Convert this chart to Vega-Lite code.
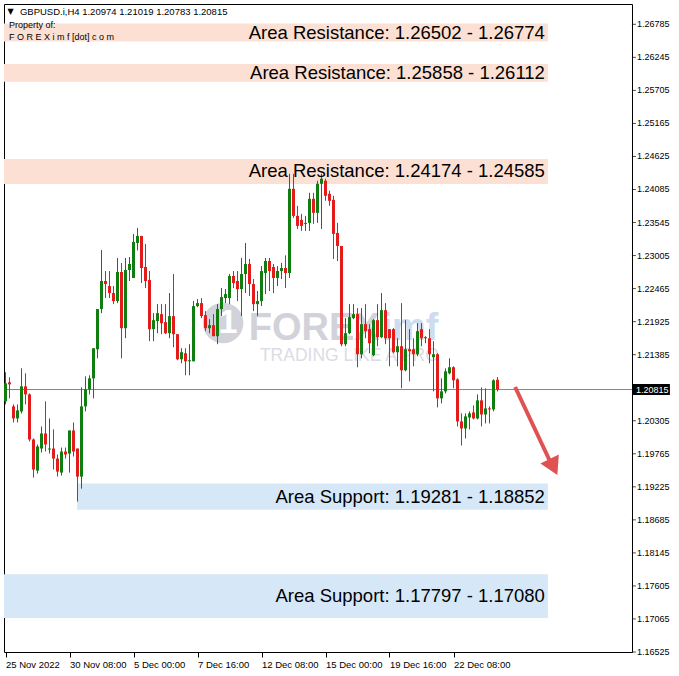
{
  "$schema": "https://vega.github.io/schema/vega-lite/v6.json",
  "width": 628,
  "height": 648,
  "autosize": {"type": "none"},
  "padding": {"left": 4, "top": 4, "right": 47, "bottom": 24},
  "background": "white",
  "view": {"stroke": "#000000", "strokeWidth": 1},
  "config": {"font": "Liberation Sans", "axis": {"labelOverlap": false, "labelFlush": false, "labelBound": false}, "axisQuantitative": {"labelOverlap": false}},
  "datasets": {
    "candles": [
      {"t":0,"o":1.20622,"h":1.21097,"l":1.20572,"c":1.20916},
      {"t":1,"o":1.20933,"h":1.21015,"l":1.20671,"c":1.20900},
      {"t":2,"o":1.20540,"h":1.20572,"l":1.20277,"c":1.20343},
      {"t":3,"o":1.20343,"h":1.20572,"l":1.20277,"c":1.20474},
      {"t":4,"o":1.20458,"h":1.21162,"l":1.20425,"c":1.20867},
      {"t":5,"o":1.20867,"h":1.21080,"l":1.20572,"c":1.20736},
      {"t":6,"o":1.20736,"h":1.20752,"l":1.19966,"c":1.19999},
      {"t":7,"o":1.19999,"h":1.20015,"l":1.19376,"c":1.19507},
      {"t":8,"o":1.19490,"h":1.19917,"l":1.19441,"c":1.19884},
      {"t":9,"o":1.19851,"h":1.20212,"l":1.19785,"c":1.20097},
      {"t":10,"o":1.20097,"h":1.20622,"l":1.19802,"c":1.19917},
      {"t":11,"o":1.19835,"h":1.20343,"l":1.19769,"c":1.19851},
      {"t":12,"o":1.19851,"h":1.20163,"l":1.19507,"c":1.19687},
      {"t":13,"o":1.19687,"h":1.19753,"l":1.19392,"c":1.19474},
      {"t":14,"o":1.19458,"h":1.19867,"l":1.19408,"c":1.19802},
      {"t":15,"o":1.19802,"h":1.19867,"l":1.19687,"c":1.19753},
      {"t":16,"o":1.19769,"h":1.20146,"l":1.19458,"c":1.20146},
      {"t":17,"o":1.20146,"h":1.20277,"l":1.19720,"c":1.19802},
      {"t":18,"o":1.19851,"h":1.19851,"l":1.18983,"c":1.19392},
      {"t":19,"o":1.19392,"h":1.20851,"l":1.19195,"c":1.20540},
      {"t":20,"o":1.20540,"h":1.21031,"l":1.20458,"c":1.20818},
      {"t":21,"o":1.20818,"h":1.21048,"l":1.20736,"c":1.20998},
      {"t":22,"o":1.20998,"h":1.21490,"l":1.20671,"c":1.21490},
      {"t":23,"o":1.21474,"h":1.22130,"l":1.21326,"c":1.22130},
      {"t":24,"o":1.22130,"h":1.23097,"l":1.22064,"c":1.22589},
      {"t":25,"o":1.22589,"h":1.22752,"l":1.22310,"c":1.22539},
      {"t":26,"o":1.22507,"h":1.22752,"l":1.22310,"c":1.22392},
      {"t":27,"o":1.22392,"h":1.22507,"l":1.22211,"c":1.22261},
      {"t":28,"o":1.22261,"h":1.22966,"l":1.22228,"c":1.22736},
      {"t":29,"o":1.22736,"h":1.22884,"l":1.21326,"c":1.21818},
      {"t":30,"o":1.21818,"h":1.22966,"l":1.21654,"c":1.22769},
      {"t":31,"o":1.22769,"h":1.22982,"l":1.22589,"c":1.22867},
      {"t":32,"o":1.22638,"h":1.23359,"l":1.22638,"c":1.23228},
      {"t":33,"o":1.23211,"h":1.23457,"l":1.23090,"c":1.23326},
      {"t":34,"o":1.23326,"h":1.23326,"l":1.22556,"c":1.22802},
      {"t":35,"o":1.22818,"h":1.23195,"l":1.22474,"c":1.22589},
      {"t":36,"o":1.22605,"h":1.22752,"l":1.21605,"c":1.21802},
      {"t":37,"o":1.21802,"h":1.22064,"l":1.21605,"c":1.21949},
      {"t":38,"o":1.21933,"h":1.22211,"l":1.21736,"c":1.22064},
      {"t":39,"o":1.22048,"h":1.22211,"l":1.21720,"c":1.21900},
      {"t":40,"o":1.21916,"h":1.22211,"l":1.21720,"c":1.21736},
      {"t":41,"o":1.21736,"h":1.22392,"l":1.21654,"c":1.22015},
      {"t":42,"o":1.22015,"h":1.22703,"l":1.21507,"c":1.21720},
      {"t":43,"o":1.21720,"h":1.21720,"l":1.21294,"c":1.21310},
      {"t":44,"o":1.21310,"h":1.21490,"l":1.21244,"c":1.21425},
      {"t":45,"o":1.21408,"h":1.21490,"l":1.21048,"c":1.21277},
      {"t":46,"o":1.21277,"h":1.21556,"l":1.21048,"c":1.21294},
      {"t":47,"o":1.21277,"h":1.22261,"l":1.21277,"c":1.22179},
      {"t":48,"o":1.22179,"h":1.22293,"l":1.22162,"c":1.22228},
      {"t":49,"o":1.22228,"h":1.22310,"l":1.21982,"c":1.22015},
      {"t":50,"o":1.22031,"h":1.22097,"l":1.21769,"c":1.21818},
      {"t":51,"o":1.21818,"h":1.21966,"l":1.21736,"c":1.21867},
      {"t":52,"o":1.21867,"h":1.22048,"l":1.21687,"c":1.21687},
      {"t":53,"o":1.21687,"h":1.22211,"l":1.21556,"c":1.22130},
      {"t":54,"o":1.22130,"h":1.22474,"l":1.22015,"c":1.22326},
      {"t":55,"o":1.22310,"h":1.22457,"l":1.22228,"c":1.22375},
      {"t":56,"o":1.22310,"h":1.22703,"l":1.22211,"c":1.22671},
      {"t":57,"o":1.22671,"h":1.22752,"l":1.22474,"c":1.22556},
      {"t":58,"o":1.22589,"h":1.22752,"l":1.22261,"c":1.22457},
      {"t":59,"o":1.22457,"h":1.22966,"l":1.22015,"c":1.22703},
      {"t":60,"o":1.22703,"h":1.23211,"l":1.22392,"c":1.22867},
      {"t":61,"o":1.22867,"h":1.22949,"l":1.22343,"c":1.22539},
      {"t":62,"o":1.22539,"h":1.22621,"l":1.22097,"c":1.22211},
      {"t":63,"o":1.22211,"h":1.22425,"l":1.22015,"c":1.22261},
      {"t":64,"o":1.22261,"h":1.22834,"l":1.22179,"c":1.22752},
      {"t":65,"o":1.22720,"h":1.22966,"l":1.22375,"c":1.22916},
      {"t":66,"o":1.22916,"h":1.22966,"l":1.22425,"c":1.22752},
      {"t":67,"o":1.22818,"h":1.22867,"l":1.22392,"c":1.22638},
      {"t":68,"o":1.22638,"h":1.22834,"l":1.22507,"c":1.22752},
      {"t":69,"o":1.22752,"h":1.22884,"l":1.22621,"c":1.22802},
      {"t":70,"o":1.22802,"h":1.23008,"l":1.22474,"c":1.22720},
      {"t":71,"o":1.22720,"h":1.24342,"l":1.22638,"c":1.24096},
      {"t":72,"o":1.24096,"h":1.24342,"l":1.23621,"c":1.23654},
      {"t":73,"o":1.23654,"h":1.23818,"l":1.23441,"c":1.23490},
      {"t":74,"o":1.23588,"h":1.23687,"l":1.23408,"c":1.23490},
      {"t":75,"o":1.23523,"h":1.23654,"l":1.23408,"c":1.23539},
      {"t":76,"o":1.23539,"h":1.24031,"l":1.23408,"c":1.23933},
      {"t":77,"o":1.23933,"h":1.24031,"l":1.23523,"c":1.23703},
      {"t":78,"o":1.23703,"h":1.24228,"l":1.23539,"c":1.24178},
      {"t":79,"o":1.24178,"h":1.24342,"l":1.23441,"c":1.24260},
      {"t":80,"o":1.24228,"h":1.24260,"l":1.23900,"c":1.23982},
      {"t":81,"o":1.24015,"h":1.24064,"l":1.23818,"c":1.23900},
      {"t":82,"o":1.23916,"h":1.23982,"l":1.22949,"c":1.23359},
      {"t":83,"o":1.23375,"h":1.23539,"l":1.22916,"c":1.23162},
      {"t":84,"o":1.23162,"h":1.23162,"l":1.21523,"c":1.21556},
      {"t":85,"o":1.21556,"h":1.21982,"l":1.21523,"c":1.21736},
      {"t":86,"o":1.21736,"h":1.22211,"l":1.21720,"c":1.21998},
      {"t":87,"o":1.21982,"h":1.22211,"l":1.21966,"c":1.22048},
      {"t":88,"o":1.22048,"h":1.22146,"l":1.21179,"c":1.21392},
      {"t":89,"o":1.21392,"h":1.22146,"l":1.21326,"c":1.21884},
      {"t":90,"o":1.21884,"h":1.22211,"l":1.21654,"c":1.21769},
      {"t":91,"o":1.21802,"h":1.21884,"l":1.21408,"c":1.21572},
      {"t":92,"o":1.21376,"h":1.21966,"l":1.21359,"c":1.21949},
      {"t":93,"o":1.21949,"h":1.22211,"l":1.21523,"c":1.21671},
      {"t":94,"o":1.21671,"h":1.22392,"l":1.21654,"c":1.22113},
      {"t":95,"o":1.22113,"h":1.22228,"l":1.21556,"c":1.21654},
      {"t":96,"o":1.21802,"h":1.21802,"l":1.21195,"c":1.21654},
      {"t":97,"o":1.21802,"h":1.21818,"l":1.21408,"c":1.21425},
      {"t":98,"o":1.21425,"h":1.21654,"l":1.21195,"c":1.21523},
      {"t":99,"o":1.21523,"h":1.22228,"l":1.20835,"c":1.21130},
      {"t":100,"o":1.21130,"h":1.21949,"l":1.21113,"c":1.21474},
      {"t":101,"o":1.21474,"h":1.21802,"l":1.20949,"c":1.21441},
      {"t":102,"o":1.21474,"h":1.21654,"l":1.21195,"c":1.21392},
      {"t":103,"o":1.21392,"h":1.21900,"l":1.21359,"c":1.21769},
      {"t":104,"o":1.21802,"h":1.21900,"l":1.21523,"c":1.21654},
      {"t":105,"o":1.21654,"h":1.21687,"l":1.21572,"c":1.21671},
      {"t":106,"o":1.21654,"h":1.21802,"l":1.21244,"c":1.21392},
      {"t":107,"o":1.21343,"h":1.21605,"l":1.20785,"c":1.21392},
      {"t":108,"o":1.21392,"h":1.21408,"l":1.20523,"c":1.20671},
      {"t":109,"o":1.20671,"h":1.20998,"l":1.20589,"c":1.20785},
      {"t":110,"o":1.20785,"h":1.21162,"l":1.20752,"c":1.21113},
      {"t":111,"o":1.21080,"h":1.21326,"l":1.21064,"c":1.21179},
      {"t":112,"o":1.21179,"h":1.21195,"l":1.20835,"c":1.20966},
      {"t":113,"o":1.20982,"h":1.20998,"l":1.20212,"c":1.20294},
      {"t":114,"o":1.20294,"h":1.20425,"l":1.19900,"c":1.20179},
      {"t":115,"o":1.20179,"h":1.20425,"l":1.20015,"c":1.20376},
      {"t":116,"o":1.20359,"h":1.20458,"l":1.20163,"c":1.20425},
      {"t":117,"o":1.20441,"h":1.20556,"l":1.20326,"c":1.20343},
      {"t":118,"o":1.20343,"h":1.20736,"l":1.20326,"c":1.20638},
      {"t":119,"o":1.20638,"h":1.20851,"l":1.20212,"c":1.20408},
      {"t":120,"o":1.20408,"h":1.20835,"l":1.20261,"c":1.20507},
      {"t":121,"o":1.20507,"h":1.20540,"l":1.20261,"c":1.20490},
      {"t":122,"o":1.20490,"h":1.20982,"l":1.20458,"c":1.20966},
      {"t":123,"o":1.20974,"h":1.21019,"l":1.20783,"c":1.20815}
    ],
    "zones": [
      {"kind":"Resistance","lo":1.26502,"hi":1.26800,"from":-0.375,"to":135.6,"label":"Area Resistance: 1.26502 - 1.26774"},
      {"kind":"Resistance","lo":1.25845,"hi":1.26135,"from":-0.375,"to":135.6,"label":"Area Resistance: 1.25858 - 1.26112"},
      {"kind":"Resistance","lo":1.24174,"hi":1.24585,"from":-0.375,"to":135.6,"label":"Area Resistance: 1.24174 - 1.24585"},
      {"kind":"Support","lo":1.18852,"hi":1.19281,"from":17.9,"to":135.6,"label":"Area Support: 1.19281 - 1.18852"},
      {"kind":"Support","lo":1.17080,"hi":1.17797,"from":-0.375,"to":135.6,"label":"Area Support: 1.17797 - 1.17080"}
    ],
    "yticks": [
      {"v":1.26785},{"v":1.26245},{"v":1.25705},{"v":1.25165},{"v":1.24625},{"v":1.24085},{"v":1.23545},{"v":1.23005},{"v":1.22465},{"v":1.21925},
      {"v":1.21385},{"v":1.20305},{"v":1.19765},{"v":1.19225},{"v":1.18685},{"v":1.18145},{"v":1.17605},{"v":1.17065},{"v":1.16525}
    ]
  },
  "layer": [
    {
      "data": {"name": "zones"},
      "mark": {"type": "rect"},
      "encoding": {
        "x": {"field": "from", "type": "quantitative", "scale": {"domain": [-0.375, 156.625], "nice": false, "zero": false},
          "axis": {"orient": "bottom", "values": [0, 16, 32, 48, 64, 80, 96, 112], "labelExpr": "['25 Nov 2022','30 Nov 08:00','5 Dec 00:00','7 Dec 16:00','12 Dec 08:00','15 Dec 00:00','19 Dec 16:00','22 Dec 08:00'][round(datum.value/16)]", "labelAlign": "left", "labelPadding": 2, "labelFont": "Liberation Sans", "labelFontSize": 9.5, "labelColor": "#000000", "tickSize": 5, "tickColor": "#000000", "domain": false, "grid": false, "title": null, "labelOverlap": false, "labelFlush": false}},
        "x2": {"field": "to"},
        "y": {"field": "lo", "type": "quantitative", "scale": {"domain": [1.16525, 1.27117], "nice": false, "zero": false}, "axis": null},
        "y2": {"field": "hi"},
        "color": {"field": "kind", "type": "nominal", "scale": {"domain": ["Resistance", "Support"], "range": ["#fce0d3", "#d6e8f8"]}, "legend": null}
      }
    },
    {
      "data": {"name": "yticks"},
      "mark": {"type": "tick", "orient": "horizontal", "color": "#000000", "thickness": 1, "size": 4},
      "encoding": {
        "x": {"datum": 157.1, "type": "quantitative"},
        "y": {"field": "v", "type": "quantitative"}
      }
    },
    {
      "data": {"name": "yticks"},
      "mark": {"type": "text", "align": "left", "baseline": "middle", "font": "Liberation Sans", "fontSize": 9, "color": "#000000", "dx": 3},
      "encoding": {
        "x": {"datum": 157.1, "type": "quantitative"},
        "y": {"field": "v", "type": "quantitative"},
        "text": {"field": "v", "type": "quantitative", "format": ".5f"}
      }
    },
    {
      "data": {"values": [{"name": "logo"}]},
      "mark": {"type": "point", "shape": "circle", "filled": true, "size": 1650, "color": "#d2d2da", "opacity": 1},
      "encoding": {
        "x": {"datum": 54.4, "type": "quantitative"},
        "y": {"datum": 1.21903, "type": "quantitative"}
      }
    },
    {
      "data": {"values": [{"name": "logo"}]},
      "mark": {"type": "text", "text": "1", "font": "Liberation Sans", "fontWeight": "bold", "fontSize": 34, "align": "center", "baseline": "middle", "color": "#ffffff"},
      "encoding": {
        "x": {"datum": 55.6, "type": "quantitative"},
        "y": {"datum": 1.21903, "type": "quantitative"}
      }
    },
    {
      "data": {"values": [{"name": "logo"}]},
      "mark": {"type": "text", "text": "FOREX", "font": "Liberation Sans", "fontWeight": "bold", "fontSize": 38, "align": "left", "baseline": "middle", "color": "#d2d2da"},
      "encoding": {
        "x": {"datum": 60.8, "type": "quantitative"},
        "y": {"datum": 1.21811, "type": "quantitative"}
      }
    },
    {
      "data": {"values": [{"name": "logo"}]},
      "mark": {"type": "text", "text": "imf", "font": "Liberation Sans", "fontWeight": "bold", "fontSize": 38, "align": "left", "baseline": "middle", "color": "#cddcef"},
      "encoding": {
        "x": {"datum": 94.0, "type": "quantitative"},
        "y": {"datum": 1.21811, "type": "quantitative"}
      }
    },
    {
      "data": {"values": [{"name": "logo"}]},
      "mark": {"type": "text", "text": "TRADING LIKE A PRO", "font": "Liberation Sans", "fontSize": 17.5, "align": "left", "baseline": "middle", "color": "#dcdce3"},
      "encoding": {
        "x": {"datum": 63.6, "type": "quantitative"},
        "y": {"datum": 1.21363, "type": "quantitative"}
      }
    },
    {
      "data": {"values": [{"bid": 1.20815}]},
      "mark": {"type": "rule", "color": "#7d8791", "strokeWidth": 1},
      "encoding": {
        "y": {"field": "bid", "type": "quantitative"}
      }
    },
    {
      "data": {"name": "candles"},
      "mark": {"type": "rule", "strokeWidth": 1},
      "encoding": {
        "x": {"field": "t", "type": "quantitative"},
        "y": {"field": "l", "type": "quantitative"},
        "y2": {"field": "h"},
        "color": {"condition": {"test": "datum.c >= datum.o", "value": "#0f7d0f"}, "value": "#e31b1b"}
      }
    },
    {
      "data": {"name": "candles"},
      "mark": {"type": "rule", "strokeWidth": 3, "strokeCap": "butt"},
      "encoding": {
        "x": {"field": "t", "type": "quantitative"},
        "y": {"field": "o", "type": "quantitative"},
        "y2": {"field": "c"},
        "color": {"condition": {"test": "datum.c >= datum.o", "value": "#0f7d0f"}, "value": "#e31b1b"}
      }
    },
    {
      "data": {"name": "zones"},
      "transform": [{"fold": ["lo", "hi"], "as": ["edge", "price"]}],
      "mark": {"type": "text", "align": "right", "baseline": "middle", "dx": -3, "font": "Liberation Sans", "fontSize": 18.5, "color": "#000000"},
      "encoding": {
        "x": {"aggregate": "max", "field": "to", "type": "quantitative"},
        "y": {"aggregate": "mean", "field": "price", "type": "quantitative"},
        "text": {"field": "label", "type": "nominal"}
      }
    },
    {
      "data": {"values": [{"i": 127.4, "p": 1.20857}, {"i": 136.1, "p": 1.19647}]},
      "mark": {"type": "line", "color": "#e05252", "strokeWidth": 4, "strokeCap": "butt"},
      "encoding": {
        "x": {"field": "i", "type": "quantitative"},
        "y": {"field": "p", "type": "quantitative"}
      }
    },
    {
      "data": {"values": [{"i": 137.0, "p": 1.19549}]},
      "mark": {"type": "point", "shape": "triangle-up", "filled": true, "size": 420, "angle": 154, "color": "#e05252", "opacity": 1},
      "encoding": {
        "x": {"field": "i", "type": "quantitative"},
        "y": {"field": "p", "type": "quantitative"}
      }
    },
    {
      "data": {"values": [{"bid": 1.20815}]},
      "mark": {"type": "rect", "color": "#000000"},
      "encoding": {
        "x": {"datum": 156.625, "type": "quantitative"},
        "x2": {"datum": 166.1},
        "y": {"datum": 1.20725, "type": "quantitative"},
        "y2": {"datum": 1.20905}
      }
    },
    {
      "data": {"values": [{"bid": 1.20815}]},
      "mark": {"type": "text", "align": "left", "baseline": "middle", "font": "Liberation Sans", "fontSize": 9, "color": "#ffffff", "dx": 4},
      "encoding": {
        "x": {"datum": 156.625, "type": "quantitative"},
        "y": {"field": "bid", "type": "quantitative"},
        "text": {"field": "bid", "type": "quantitative", "format": ".5f"}
      }
    },
    {
      "data": {"values": [{"name": "hdr"}]},
      "mark": {"type": "text", "text": "▼", "font": "DejaVu Sans", "fontSize": 8, "align": "center", "baseline": "middle", "color": "#000000"},
      "encoding": {
        "x": {"datum": 1.3, "type": "quantitative"},
        "y": {"datum": 1.26986, "type": "quantitative"}
      }
    },
    {
      "data": {"values": [{"name": "hdr"}]},
      "mark": {"type": "text", "text": "GBPUSD.i,H4  1.20974 1.21019 1.20783 1.20815", "font": "Liberation Sans", "fontSize": 9.5, "align": "left", "baseline": "middle", "color": "#000000"},
      "encoding": {
        "x": {"datum": 3.6, "type": "quantitative"},
        "y": {"datum": 1.26986, "type": "quantitative"}
      }
    },
    {
      "data": {"values": [{"name": "hdr"}]},
      "mark": {"type": "text", "text": "Property of:", "font": "Liberation Sans", "fontSize": 9, "align": "left", "baseline": "middle", "color": "#000000"},
      "encoding": {
        "x": {"datum": 0.9, "type": "quantitative"},
        "y": {"datum": 1.26774, "type": "quantitative"}
      }
    },
    {
      "data": {"values": [{"name": "hdr"}]},
      "mark": {"type": "text", "text": "F O R E X i m f [dot] c o m", "font": "Liberation Sans", "fontSize": 9, "align": "left", "baseline": "middle", "color": "#000000"},
      "encoding": {
        "x": {"datum": 0.9, "type": "quantitative"},
        "y": {"datum": 1.26577, "type": "quantitative"}
      }
    }
  ]
}
